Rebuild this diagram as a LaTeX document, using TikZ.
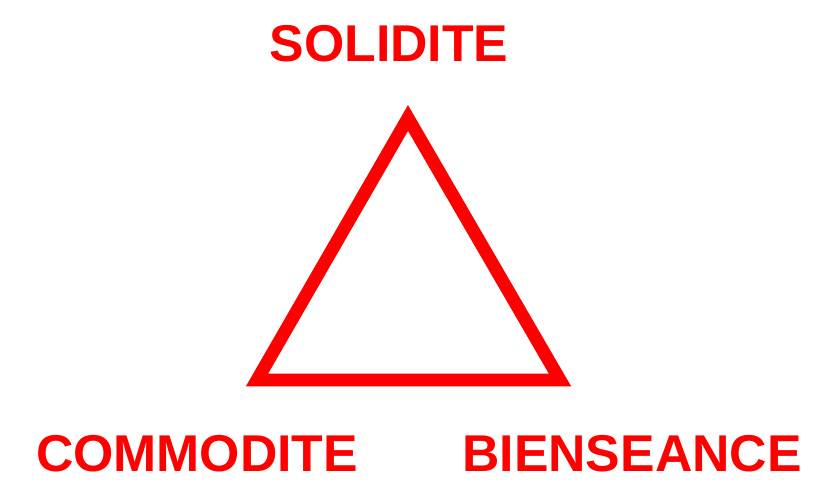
\documentclass[tikz,border=0pt]{standalone}
\usepackage{fontspec}
\setmainfont{Liberation Sans}
\usepackage{xcolor}
\usepackage{tikz}
\usetikzlibrary{
    positioning
}

\definecolor{pure red}{RGB}{255,0,0}

\begin{document}
\begin{tikzpicture}[
    x=0.025cm, y=-0.025cm,
    label text/.style={
        text=pure red,
        anchor=base,
        inner sep=0pt,
        font=\fontsize{36.8}{44}\selectfont\bfseries
    },
    side/.style={
        draw=pure red,
        line width=9.2pt,
        miter limit=10
    }
]

\useasboundingbox (0,0) rectangle (816,488);

\coordinate (apex) at (408,118);
\coordinate (corner left) at (257,380);
\coordinate (corner right) at (560,380);

\node[label text] (solidite) at (389,61) {SOLIDITE};
\node[label text] (commodite) at (197,471) {COMMODITE};
\node[label text] (bienseance) at (632,471) {BIENSEANCE};

\draw[side] (apex) -- (corner right) -- (corner left) -- cycle;

\end{tikzpicture}
\end{document}
